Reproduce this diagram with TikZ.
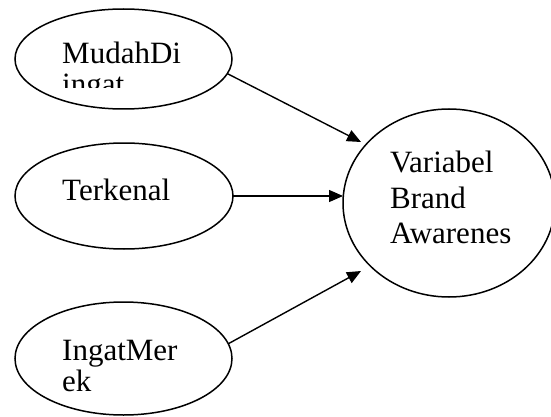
\documentclass[tikz,border=0pt]{standalone}
\usepackage{fontspec}
\setmainfont{Liberation Serif}
\usetikzlibrary{shapes.geometric,arrows.meta}

\begin{document}
\begin{tikzpicture}[x=1pt,y=-1pt,
  oval/.style={ellipse,draw,line width=1.5pt,inner sep=0pt,outer sep=0pt},
  lbl/.style={anchor=base west,inner sep=0pt,font=\fontsize{31}{36}\selectfont},
  link/.style={line width=1.4pt,-{Triangle[length=14pt,width=12pt]}}]
  \useasboundingbox (0,0) rectangle (551,417);

  % indicator ovals
  \node[oval,minimum width=217pt,minimum height=100pt] (mudah) at (123.5,59) {};
  \node[oval,minimum width=218pt,minimum height=106pt] (terkenal) at (124,196) {};
  \node[oval,minimum width=217pt,minimum height=113pt] (ingat) at (123.5,358.5) {};
  % construct oval, running off the right edge
  \begin{scope}
    \clip (0,0) rectangle (551,417);
    \node[oval,minimum width=212pt,minimum height=188pt] (brand) at (449,203) {};
  \end{scope}

  % labels; the second line of the first oval is cut off by its text box
  \node[lbl] (t1) at (62,64) {MudahDi};
  \begin{scope}
    \clip (40,70) rectangle (220,88);
    \node[lbl] (t1b) at (62,95) {ingat};
  \end{scope}
  \node[lbl] (t2) at (62,200) {Terkenal};
  \node[lbl] (t3) at (62,360) {IngatMer};
  \node[lbl] (t3b) at (62,391) {ek};
  \node[lbl] (t4) at (390,172) {Variabel};
  \node[lbl] (t5) at (390,208) {Brand};
  \node[lbl] (t6) at (390,243) {Awarenes};

  % arrow tips
  \coordinate (tipA) at (361,142);
  \coordinate (tipC) at (361,271);

  \draw[link] (mudah.-8) -- (tipA);
  \draw[link] (terkenal.east) -- (brand.west |- terkenal.east);
  \draw[link] (ingat.8) -- (tipC);
\end{tikzpicture}
\end{document}
